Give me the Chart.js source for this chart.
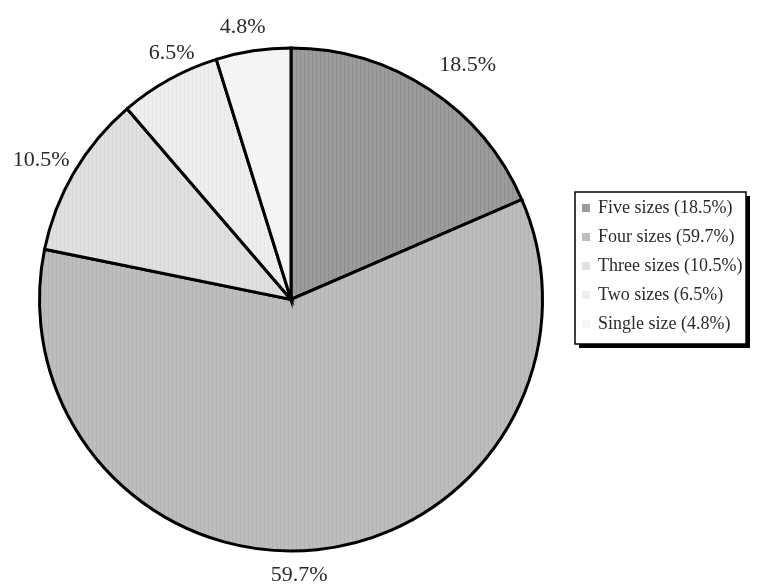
<!DOCTYPE html>
<html>
<head>
<meta charset="utf-8">
<title>Number of sizes</title>
<script src="https://cdn.jsdelivr.net/npm/chart.js@4.4.1/dist/chart.umd.min.js"></script>
<style>
  html, body { margin: 0; padding: 0; background: #fff; }
  #wrap { width: 758px; height: 585px; }
</style>
</head>
<body>
<div id="wrap"><canvas id="myChart" width="758" height="585"></canvas></div>
<script>
// Share of products by number of sizes offered
const categories = ['Five sizes', 'Four sizes', 'Three sizes', 'Two sizes', 'Single size'];
const shares = [18.5, 59.7, 10.5, 6.5, 4.8];

// Fill colours (base, stripe) and texture for each slice
const baseColors = ['#9c9c9c', '#bdbdbd', '#e0e0e0', '#eeeeee', '#f6f6f6'];
const stripeColors = ['#8f8f8f', '#b3b3b3', '#d8d8d8', '#e6e6e6', '#e4e4e4'];
const textures = ['vstripe', 'vstripe', 'vstripe', 'vstripe', 'dots'];

const serif = '"Liberation Serif", "Times New Roman", serif';

// Small repeating canvas textures used as slice fills
function makePattern(base, stripe, kind) {
  const c = document.createElement('canvas');
  c.width = 4; c.height = 4;
  const g = c.getContext('2d');
  g.fillStyle = base;
  g.fillRect(0, 0, 4, 4);
  g.fillStyle = stripe;
  if (kind === 'vstripe') {
    g.fillRect(0, 0, 1, 4);
  } else {
    g.fillRect(0, 0, 1, 1);
    g.fillRect(2, 2, 1, 1);
  }
  return g.createPattern(c, 'repeat');
}

const fills = baseColors.map((b, i) => makePattern(b, stripeColors[i], textures[i]));

// Percentage labels placed just outside each slice, with small nudges
// so they sit where the original layout put them
const labelNudge = [[22, 1], [-21, -4], [-7, 3], [17, 0], [-6, 6]];

const outsideLabels = {
  id: 'outsideLabels',
  afterDatasetsDraw(chart) {
    const ctx = chart.ctx;
    const meta = chart.getDatasetMeta(0);
    ctx.save();
    ctx.font = '22px ' + serif;
    ctx.fillStyle = '#2a2a2a';
    ctx.textAlign = 'center';
    ctx.textBaseline = 'middle';
    meta.data.forEach((arc, i) => {
      const p = arc.getProps(['x', 'y', 'startAngle', 'endAngle', 'outerRadius'], true);
      const mid = (p.startAngle + p.endAngle) / 2;
      const r = p.outerRadius + 30;
      const [nx, ny] = labelNudge[i];
      ctx.fillText(shares[i].toFixed(1) + '%',
        p.x + Math.cos(mid) * r + nx, p.y + Math.sin(mid) * r + ny);
    });
    ctx.restore();
  }
};

// Boxed legend with a drop shadow on the right side
const boxLegend = {
  id: 'boxLegend',
  afterDraw(chart) {
    const ctx = chart.ctx;
    const x = 575, y = 192, w = 171, h = 152;
    ctx.save();
    ctx.fillStyle = '#000';
    ctx.fillRect(x + 4, y + 4, w, h);
    ctx.fillStyle = '#fff';
    ctx.fillRect(x, y, w, h);
    ctx.strokeStyle = '#000';
    ctx.lineWidth = 1.5;
    ctx.strokeRect(x, y, w, h);
    ctx.font = '18px ' + serif;
    ctx.textBaseline = 'middle';
    ctx.textAlign = 'left';
    categories.forEach((name, i) => {
      const ty = y + 16 + i * 29;
      ctx.fillStyle = baseColors[i];
      ctx.fillRect(x + 7, ty - 4, 8, 8);
      ctx.fillStyle = '#2a2a2a';
      ctx.fillText(name + ' (' + shares[i].toFixed(1) + '%)', x + 23, ty);
    });
    ctx.restore();
  }
};

const ctx = document.getElementById('myChart').getContext('2d');
const chart = new Chart(ctx, {
  type: 'pie',
  data: {
    labels: categories,
    datasets: [{
      data: shares,
      backgroundColor: fills,
      borderColor: '#000',
      borderWidth: 3,
      borderJoinStyle: 'miter'
    }]
  },
  options: {
    responsive: false,
    animation: false,
    layout: { padding: { left: 38, top: 46, right: 214, bottom: 32 } },
    plugins: {
      legend: { display: false },
      tooltip: { enabled: false }
    }
  },
  plugins: [outsideLabels, boxLegend]
});
</script>
</body>
</html>
